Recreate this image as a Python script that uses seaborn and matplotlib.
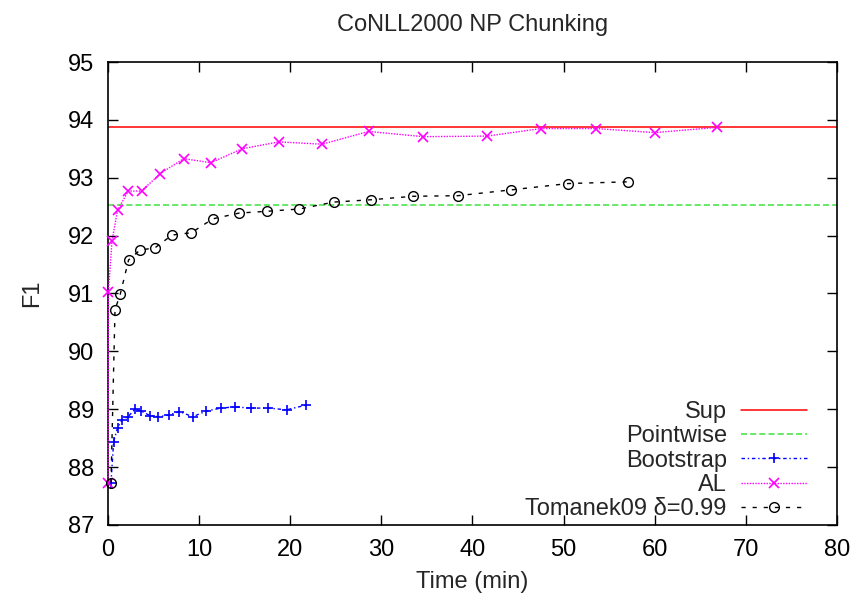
import matplotlib
matplotlib.use("Agg")
import matplotlib.pyplot as plt
import seaborn as sns

# ---------------- data ----------------
title = "CoNLL2000 NP Chunking"
x_label = "Time (min)"
y_label = "F1"
x_ticks = [0, 10, 20, 30, 40, 50, 60, 70, 80]
y_ticks = [87, 88, 89, 90, 91, 92, 93, 94, 95]

sup_f1 = 93.87
pointwise_f1 = 92.53

bootstrap_time = [0.33, 0.62, 1.05, 1.54, 2.2, 2.95, 3.63, 4.6, 5.53, 6.66,
                  7.84, 9.3, 10.8, 12.4, 13.9, 15.7, 17.6, 19.6, 21.7]
bootstrap_f1 = [87.73, 88.44, 88.68, 88.82, 88.87, 89.0, 88.97, 88.89, 88.87, 88.90,
                88.96, 88.87, 88.97, 89.02, 89.04, 89.02, 89.02, 88.99, 89.07]

al_time = [0.0, 0.05, 0.44, 1.05, 2.23, 3.69, 5.71, 8.31, 11.3, 14.7,
           18.75, 23.5, 28.6, 34.6, 41.6, 47.5, 53.6, 60.0, 66.8]
al_f1 = [87.73, 91.03, 91.91, 92.44, 92.77, 92.77, 93.07, 93.33, 93.26, 93.50,
         93.62, 93.58, 93.80, 93.71, 93.72, 93.85, 93.85, 93.78, 93.87]

tomanek_time = [0.33, 0.77, 1.35, 2.26, 3.52, 5.16, 7.03, 9.15, 11.5, 14.4,
                17.4, 21.0, 24.8, 28.9, 33.5, 38.4, 44.2, 50.5, 57.1]
tomanek_f1 = [87.73, 90.72, 90.99, 91.58, 91.75, 91.79, 92.01, 92.05, 92.29, 92.39,
              92.42, 92.46, 92.58, 92.62, 92.68, 92.69, 92.79, 92.90, 92.93]

series_labels = ["Sup", "Pointwise", "Bootstrap", "AL", "Tomanek09 \u03b4=0.99"]

# ---------------- style ----------------
sns.set_style("white")
plt.rcParams['font.family'] = ['Liberation Sans', 'DejaVu Sans']
FS = 17

fig = plt.figure(figsize=(8.57, 5.98), dpi=100)
ax = fig.add_axes([0.126, 0.1221, 0.8506, 0.7742])

ax.axhline(sup_f1, color='#ff0000', lw=1.1, label=series_labels[0], zorder=2)
ax.axhline(pointwise_f1, color='#3fe03f', lw=1.1, linestyle=(0, (4, 2)),
           label=series_labels[1], zorder=2)

sns.lineplot(x=bootstrap_time, y=bootstrap_f1, ax=ax, color='#0000ff',
             marker='+', markersize=7.5, markeredgewidth=1.2,
             markeredgecolor='#0000ff', lw=1.0,
             linestyle=(0, (2.5, 2, 1, 2)), label=series_labels[2],
             sort=False, estimator=None, clip_on=False, zorder=3)
sns.lineplot(x=al_time, y=al_f1, ax=ax, color='#ff00ff',
             marker='x', markersize=6.5, markeredgewidth=1.2,
             markeredgecolor='#ff00ff', lw=1.0,
             linestyle=(0, (1, 1)), label=series_labels[3],
             sort=False, estimator=None, clip_on=False, zorder=3)
sns.lineplot(x=tomanek_time, y=tomanek_f1, ax=ax, color='#000000',
             marker='o', markersize=7, markerfacecolor='none',
             markeredgecolor='#000000', markeredgewidth=1.0, lw=1.0,
             linestyle=(0, (3, 5)), label=series_labels[4],
             sort=False, estimator=None, clip_on=False, zorder=3)

ax.set_xlim(0, 80)
ax.set_ylim(87, 95)
ax.set_xticks(x_ticks)
ax.set_yticks(y_ticks)
ax.set_xticklabels([str(v) for v in x_ticks], fontsize=FS)
ax.set_yticklabels([str(v) for v in y_ticks], fontsize=FS)
ax.tick_params(direction='in', length=7, width=1, top=True, right=True,
               bottom=True, left=True, colors='black')
ax.tick_params(axis='x', pad=10)
ax.tick_params(axis='y', pad=10)
for s in ax.spines.values():
    s.set_color('black')
    s.set_linewidth(1.2)
ax.grid(False)

ax.set_title(title, fontsize=FS, pad=22)
ax.set_xlabel(x_label, fontsize=FS, labelpad=7)
ax.set_ylabel(y_label, fontsize=FS, labelpad=18)

handles, labels = ax.get_legend_handles_labels()
order = [labels.index(l) for l in series_labels]
leg = ax.legend([handles[i] for i in order], [labels[i] for i in order],
                loc='lower right', bbox_to_anchor=(0.959, 0.010),
                frameon=False, markerfirst=False, fontsize=FS,
                handlelength=2.8, handletextpad=0.6, labelspacing=0.1,
                borderpad=0, borderaxespad=0)

fig.savefig("out.png", dpi=100)
